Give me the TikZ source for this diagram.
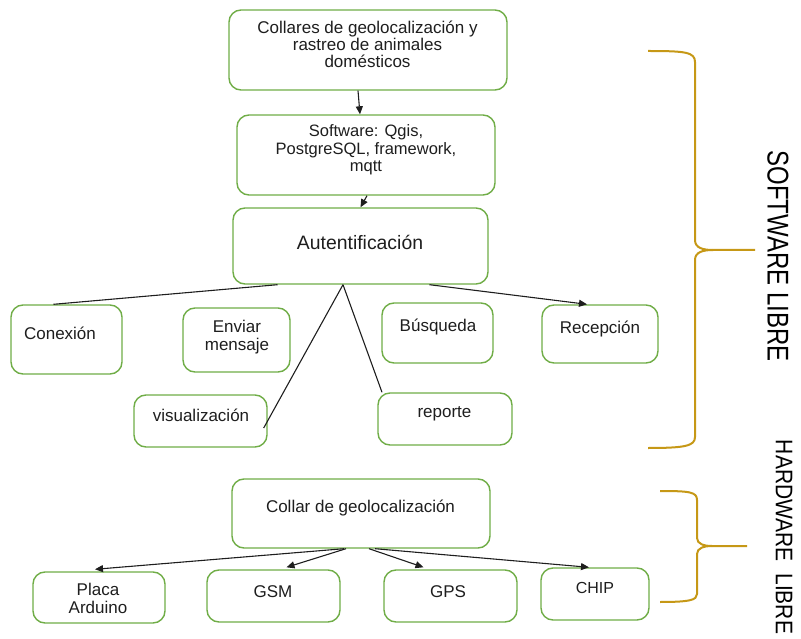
\documentclass[tikz,border=0pt]{standalone}
\usepackage{fontspec}
\setmainfont{Liberation Sans}
\usetikzlibrary{arrows.meta,calc}
\definecolor{boxgreen}{RGB}{112,173,71}
\definecolor{bracegold}{RGB}{198,152,22}
\definecolor{ink}{RGB}{30,30,30}
\tikzset{
  box/.style={draw=boxgreen, line width=1.4pt, rounded corners=12pt, fill=white, inner sep=0pt},
  lbl/.style={text=ink, align=center, inner sep=0pt, font=\fontsize{17}{18}\selectfont},
  link/.style={draw=ink, line width=1.1pt},
  arrowlink/.style={link, -{Triangle[length=8pt,width=7pt]}},
  brace/.style={draw=bracegold, line width=2pt},
  sidelabel/.style={text=black, inner sep=0pt, rotate=-90},
}
\begin{document}
\begin{tikzpicture}[x=1pt, y=-1pt]
\useasboundingbox (0,0) rectangle (801,639);

% ---- software part: boxes ----
\node[box, minimum width=278pt, minimum height=80pt] (top)  at (368,50)    {};
\node[box, minimum width=258pt, minimum height=80pt] (sw)   at (366,155)   {};
\node[box, minimum width=255pt, minimum height=76pt] (auth) at (360.5,246) {};
\node[box, minimum width=111pt, minimum height=69pt] (con)  at (66.5,339.5){};
\node[box, minimum width=107pt, minimum height=64pt] (env)  at (236.5,340) {};
\node[box, minimum width=133pt, minimum height=52pt] (vis)  at (200.5,421) {};
\node[box, minimum width=111pt, minimum height=60pt] (bus)  at (437.5,333) {};
\node[box, minimum width=116pt, minimum height=58pt] (rec)  at (600,334)   {};
\node[box, minimum width=134pt, minimum height=52pt] (rep)  at (445,419)   {};

% ---- hardware part: boxes ----
\node[box, minimum width=258pt, minimum height=69pt] (col)  at (361,513.5) {};
\node[box, minimum width=132pt, minimum height=51pt] (pla)  at (99,597.5)  {};
\node[box, minimum width=133pt, minimum height=52pt] (gsm)  at (273.5,596) {};
\node[box, minimum width=133pt, minimum height=52pt] (gps)  at (450.5,596) {};
\node[box, minimum width=108pt, minimum height=52pt] (chip) at (595,594)   {};

% ---- box texts ----
\node[lbl, font=\fontsize{17}{17}\selectfont] (top-t) at (367.5,44)
  {Collares de geolocalización y\\rastreo de animales\\domésticos};
\node[lbl, font=\fontsize{16.5}{17.5}\selectfont] (sw-t) at (366,150)
  {Software: Qgis,\\PostgreSQL, framework,\\mqtt};
\node[lbl, font=\fontsize{19.4}{20}\selectfont] (auth-t) at (360,242) {Autentificación};
\node[lbl] (con-t)  at (60,333)   {Conexión};
\node[lbl] (env-t)  at (237,337)  {Enviar\\mensaje};
\node[lbl] (vis-t)  at (201,415)  {visualización};
\node[lbl] (bus-t)  at (438,327)  {Búsqueda};
\node[lbl] (rec-t)  at (600,329)  {Recepción};
\node[lbl] (rep-t)  at (444.5,414){reporte};
\node[lbl] (col-t)  at (360.5,508){Collar de geolocalización};
\node[lbl] (pla-t)  at (98,598)   {Placa\\Arduino};
\node[lbl] (gsm-t)  at (273,592)  {GSM};
\node[lbl] (gps-t)  at (448,592)  {GPS};
\node[lbl, font=\fontsize{16}{17}\selectfont] (chip-t) at (595,588) {CHIP};

% ---- connectors, software ----
\draw[arrowlink] ([xshift=-10pt]top.south) -- ([xshift=-6pt]sw.north);
\draw[arrowlink] ([xshift=1pt]sw.south) -- (auth.north);
\draw[link] ([xshift=-83pt]auth.south) -- ([xshift=-13pt]con.north);
\draw[link] ([xshift=-17.5pt]auth.south) -- ([xshift=-4pt,yshift=-7pt]vis.east);
\draw[link] ([xshift=-17.5pt]auth.south) -- ([xshift=-63pt]rep.north);
\draw[arrowlink] ([xshift=69pt]auth.south) -- ([xshift=-13pt]rec.north);

% ---- connectors, hardware ----
\draw[arrowlink] ([xshift=-17pt]col.south) -- ([xshift=-4pt,yshift=2pt]pla.north);
\draw[arrowlink] ([xshift=-15pt]col.south) -- ([xshift=13pt,yshift=2pt]gsm.north);
\draw[arrowlink] ([xshift=8pt]col.south)   -- ([xshift=-27pt,yshift=2pt]gps.north);
\draw[arrowlink] ([xshift=14pt]col.south)  -- ([xshift=-6pt]chip.north);

% ---- braces ----
\draw[brace] (648,51) .. controls (685,51) and (695,52) .. (695,62) -- (695,240)
  .. controls (695,248) and (703,250) .. (713,250) -- (755,250);
\draw[brace] (713,250) .. controls (703,250) and (695,252) .. (695,260) -- (695,437)
  .. controls (695,446) and (685,448) .. (648,448);

\draw[brace] (660,491) .. controls (690,491) and (697,492) .. (697,500) -- (697,538)
  .. controls (697,544) and (704,546) .. (712,546) -- (747,546);
\draw[brace] (712,546) .. controls (704,546) and (697,548) .. (697,554) -- (697,594)
  .. controls (697,600) and (690,602) .. (660,602);

% ---- side labels ----
\node[sidelabel, font=\fontsize{30}{30}\selectfont] (swlabel) at (778,256)
  {\scalebox{0.8}[1]{SOFTWARE LIBRE}};
\node[sidelabel, font=\fontsize{24}{24}\selectfont] (hwlabel) at (784,537)
  {\scalebox{0.875}[1]{HARDWARE\ \ LIBRE}};
\end{tikzpicture}
\end{document}
